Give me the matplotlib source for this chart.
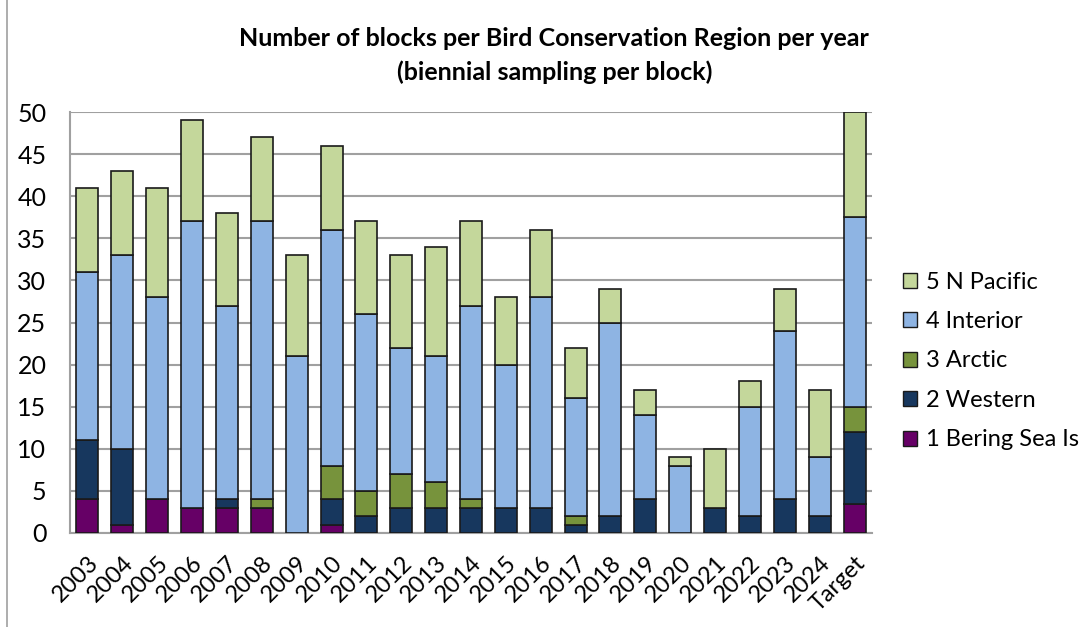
import numpy as np
import matplotlib.pyplot as plt
from matplotlib.lines import Line2D

years = ["2003", "2004", "2005", "2006", "2007", "2008", "2009", "2010", "2011", "2012",
         "2013", "2014", "2015", "2016", "2017", "2018", "2019", "2020", "2021", "2022",
         "2023", "2024", "Target"]
bering = [4, 1, 4, 3, 3, 3, 0, 1, 0, 0, 0, 0, 0, 0, 0, 0, 0, 0, 0, 0, 0, 0, 3.5]
western = [7, 9, 0, 0, 1, 0, 0, 3, 2, 3, 3, 3, 3, 3, 1, 2, 4, 0, 3, 2, 4, 2, 8.5]
arctic = [0, 0, 0, 0, 0, 1, 0, 4, 3, 4, 3, 1, 0, 0, 1, 0, 0, 0, 0, 0, 0, 0, 3]
interior = [20, 23, 24, 34, 23, 33, 21, 28, 21, 15, 15, 23, 17, 25, 14, 23, 10, 8, 0, 13, 20, 7, 22.5]
pacific = [10, 10, 13, 12, 11, 10, 12, 10, 11, 11, 13, 10, 8, 8, 6, 4, 3, 1, 7, 3, 5, 8, 12.5]

series = [("1 Bering Sea Is", bering, "#660066"),
          ("2 Western", western, "#17375E"),
          ("3 Arctic", arctic, "#77933C"),
          ("4 Interior", interior, "#8EB4E3"),
          ("5 N Pacific", pacific, "#C4D79B")]

plt.rcParams['font.family'] = ['Lato', 'DejaVu Sans']

fig = plt.figure(figsize=(10.89, 6.27), dpi=100)
ax = fig.add_axes([70 / 1089, 1 - 533 / 627, (872 - 70) / 1089, (533 - 112) / 627])

x = np.arange(len(years))
bottom = np.zeros(len(years))
handles = []
for name, vals, col in series:
    vals = np.array(vals, dtype=float)
    ax.bar(x, vals, 0.63, bottom=bottom, color=col, edgecolor="#1a1a1a", linewidth=1.2, zorder=3)
    bottom += vals
    handles.append((name, col))

ax.set_xlim(-0.5, len(years) - 0.5)
ax.set_ylim(0, 50)
ax.set_yticks(range(0, 51, 5))
ax.yaxis.grid(True, color="#a0a0a0", linewidth=1.5, zorder=0)
ax.set_axisbelow(True)
for s in ["top", "right"]:
    ax.spines[s].set_visible(False)
for s in ["left", "bottom"]:
    ax.spines[s].set_color("#a0a0a0")
    ax.spines[s].set_linewidth(1.5)
ax.tick_params(axis="y", length=0, labelsize=18, pad=17)
ax.tick_params(axis="x", length=0, pad=14)
ax.set_xticks(x)
ax.set_xticklabels(years, rotation=45, ha="right", rotation_mode="anchor", fontsize=17)

fig.text(0.509, 1 - 38 / 627, "Number of blocks per Bird Conservation Region per year",
         ha="center", va="center", fontsize=18, fontweight="bold")
fig.text(0.509, 1 - 72 / 627, "(biennial sampling per block)",
         ha="center", va="center", fontsize=18, fontweight="bold")

leg_handles = [plt.Rectangle((0, 0), 1, 1, facecolor=c, edgecolor="#1a1a1a", linewidth=1)
               for n, c in reversed(handles)]
leg_labels = [n for n, c in reversed(handles)]
fig.legend(leg_handles, leg_labels, loc="center left", bbox_to_anchor=(882 / 1089, 1 - 361 / 627),
           frameon=False, fontsize=17, handlelength=0.6, handleheight=0.6, labelspacing=0.78,
           handletextpad=0.35)

fig.add_artist(Line2D([7 / 1089, 7 / 1089], [0, 1], color="#a0a0a0", linewidth=1.2))

fig.savefig("out.png", dpi=100)
